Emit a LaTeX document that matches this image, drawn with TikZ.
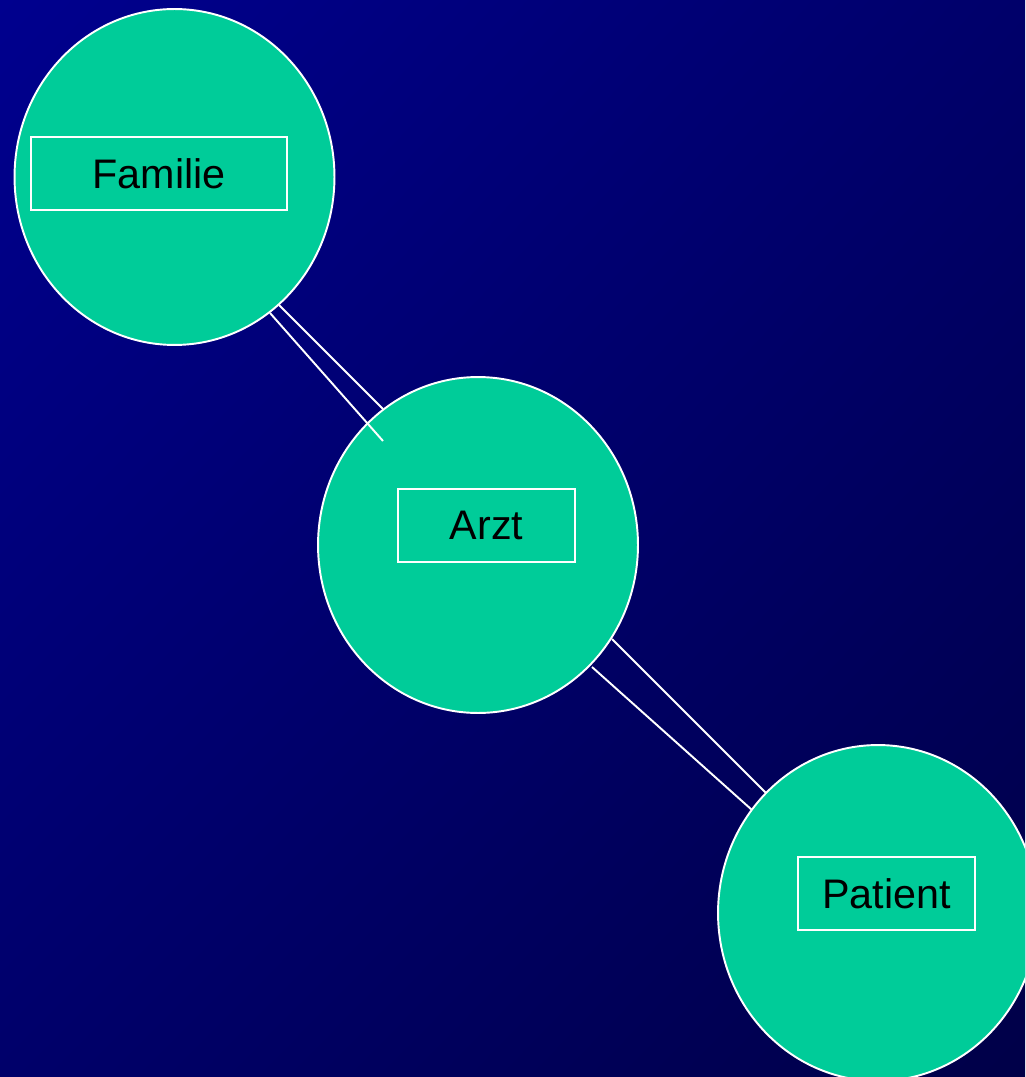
\documentclass[tikz,border=0pt]{standalone}
\usepackage{fontspec}
\setmainfont{Liberation Sans}
\usetikzlibrary{shapes.geometric, shadings, positioning, calc}
\definecolor{bgtop}{RGB}{0, 0, 142}
\definecolor{bgmid}{RGB}{0, 0, 106}
\definecolor{bgbottom}{RGB}{0, 0, 72}
\definecolor{rolegreen}{RGB}{0, 204, 153}

\begin{document}
\begin{tikzpicture}[x=0.02cm, y=-0.02cm,
  role/.style={ellipse, draw=white, line width=1.1pt, fill=rolegreen,
    inner sep=0pt, minimum width=6.4cm, minimum height=6.72cm},
  tag/.style={rectangle, draw=white, line width=1.1pt, text=black,
    inner sep=0pt, minimum height=1.46cm,
    font=\fontsize{23.5}{28}\selectfont},
  link/.style={white, line width=1.1pt}]
  \useasboundingbox (0, 0) rectangle (1025, 1077);
  \clip (0, 0) rectangle (1025, 1077);
  \shade[upper left=bgtop, upper right=bgmid, lower left=bgmid,
    lower right=bgbottom] (0, 0) rectangle (1025, 1077);

  % circles
  \node[role] (familie) at (174.5, 177) {};
  \node[role] (arzt) at (478, 545) {};
  \node[role] (patient) at (878, 913) {};

  % labels
  \node[tag, minimum width=5.12cm] (familietag) at (159, 173.5) {Familie};
  \node[tag, minimum width=3.54cm] (arzttag) at (486.5, 525.5) {Arzt};
  \node[tag, minimum width=3.54cm] (patienttag) at (886.5, 893.5) {Patient};

  % Familie -- Arzt
  \coordinate (fa1) at (270, 313);
  \coordinate (fa2) at (383, 441);
  \coordinate (fa3) at (279, 305);
  \coordinate (fa4) at (383, 409);
  \draw[link] (fa1) -- (fa2);
  \draw[link] (fa3) -- (fa4);

  % Arzt -- Patient
  \coordinate (ap1) at (592, 667);
  \coordinate (ap2) at (752, 810);
  \coordinate (ap3) at (612, 639);
  \coordinate (ap4) at (766, 793);
  \draw[link] (ap1) -- (ap2);
  \draw[link] (ap3) -- (ap4);
\end{tikzpicture}
\end{document}
